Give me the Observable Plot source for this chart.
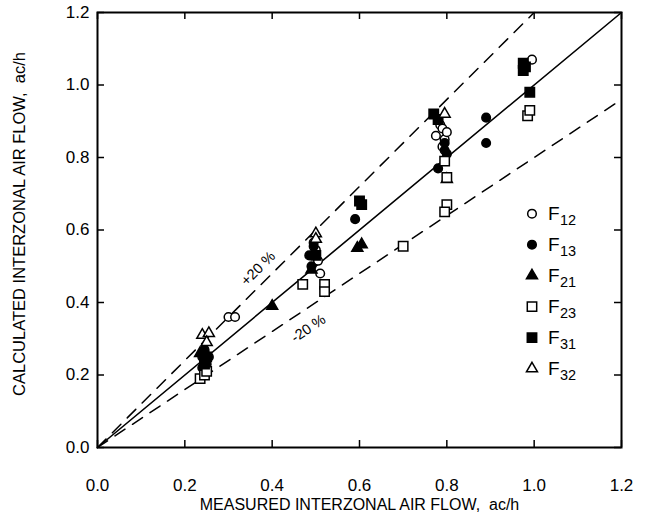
<!DOCTYPE html>
<html>
<head>
<meta charset="utf-8">
<script src="https://cdn.jsdelivr.net/npm/d3@7"></script>
<script src="https://cdn.jsdelivr.net/npm/@observablehq/plot@0.6"></script>
<style>
  html, body { margin: 0; padding: 0; background: #fff; }
  #chart { width: 648px; height: 519px; }
</style>
</head>
<body>
<div id="chart"></div>
<script>
// ---- data ----
const xTicks = [0, 0.2, 0.4, 0.6, 0.8, 1.0, 1.2];
const yTicks = [0, 0.2, 0.4, 0.6, 0.8, 1.0, 1.2];
const xTitle = "MEASURED INTERZONAL AIR FLOW,  ac/h";
const yTitle = "CALCULATED INTERZONAL AIR FLOW,  ac/h";

const seriesNames = ["12", "13", "21", "23", "31", "32"];

const f12x = [0.30, 0.315, 0.245, 0.50, 0.505, 0.51, 0.495, 0.785, 0.775, 0.79, 0.795, 0.79, 0.80, 0.995];
const f12y = [0.36, 0.36, 0.265, 0.545, 0.515, 0.48, 0.565, 0.89, 0.86, 0.88, 0.85, 0.83, 0.87, 1.07];

const f13x = [0.24, 0.25, 0.245, 0.255, 0.24, 0.495, 0.49, 0.485, 0.59, 0.795, 0.80, 0.78, 0.795, 0.89, 0.89];
const f13y = [0.25, 0.23, 0.27, 0.25, 0.22, 0.555, 0.50, 0.53, 0.63, 0.82, 0.81, 0.77, 0.84, 0.91, 0.84];

const f21x = [0.235, 0.40, 0.49, 0.595, 0.605, 0.80];
const f21y = [0.26, 0.39, 0.49, 0.55, 0.56, 0.74];

const f23x = [0.235, 0.245, 0.25, 0.47, 0.52, 0.52, 0.70, 0.795, 0.80, 0.80, 0.795, 0.985, 0.99];
const f23y = [0.19, 0.20, 0.21, 0.45, 0.45, 0.43, 0.555, 0.79, 0.745, 0.67, 0.65, 0.915, 0.93];

const f31x = [0.245, 0.25, 0.50, 0.60, 0.605, 0.77, 0.78, 0.975, 0.975, 0.98, 0.99];
const f31y = [0.23, 0.25, 0.53, 0.68, 0.67, 0.92, 0.905, 1.06, 1.04, 1.05, 0.98];

const f32x = [0.24, 0.255, 0.25, 0.50, 0.50, 0.795];
const f32y = [0.31, 0.315, 0.29, 0.59, 0.575, 0.92];

// reference lines: 1:1, +20 %, -20 %
const lineEqual = [[0, 0], [1.2, 1.2]];
const linePlus20 = [[0, 0], [1.0, 1.2]];
const lineMinus20 = [[0, 0], [1.2, 0.96]];
const bandLabels = [
  {text: "+20 %", x: 0.368, y: 0.494, rotate: -45},
  {text: "-20 %", x: 0.483, y: 0.328, rotate: -34}
];

// legend layout (data units inside the frame)
const legendX = 0.995;
const legendTop = 0.645;
const legendStep = 0.0855;

// ---- build ----
const styles = {
  "12": {symbol: "circle", fill: "white", stroke: "black", r: 4.3},
  "13": {symbol: "circle", fill: "black", stroke: "black", r: 4.3},
  "21": {symbol: "triangle", fill: "black", stroke: "black", r: 4.1},
  "23": {symbol: "square", fill: "white", stroke: "black", r: 5.3},
  "31": {symbol: "square", fill: "black", stroke: "black", r: 5.3},
  "32": {symbol: "triangle", fill: "white", stroke: "black", r: 4.1}
};
const xs = {"12": f12x, "13": f13x, "21": f21x, "23": f23x, "31": f31x, "32": f32x};
const ys = {"12": f12y, "13": f13y, "21": f21y, "23": f23y, "31": f31y, "32": f32y};

const W = 648, H = 519, mL = 97, mR = 27, mT = 12, mB = 72;
const frameW = W - mL - mR, frameH = H - mT - mB;
const tickLen = 7;
const fmt = d => d.toFixed(1);

const dotMarks = seriesNames.map(s => {
  const pts = xs[s].map((x, i) => ({x, y: ys[s][i]}));
  const st = styles[s];
  return Plot.dot(pts, {x: "x", y: "y", symbol: () => st.symbol, r: st.r,
    fill: st.fill, stroke: st.stroke, strokeWidth: 1.5});
});

const legendItems = seriesNames.map((s, i) => ({s, x: legendX, y: legendTop - i * legendStep}));
const legendMarks = seriesNames.map((s, i) => {
  const st = styles[s];
  return Plot.dot([legendItems[i]], {x: "x", y: "y", symbol: () => st.symbol, r: st.r,
    fill: st.fill, stroke: st.stroke, strokeWidth: 1.5});
});

const chart = Plot.plot({
  width: W, height: H,
  marginLeft: mL, marginRight: mR, marginTop: mT, marginBottom: mB,
  style: {fontFamily: "'Liberation Sans', Arial, Helvetica, sans-serif", background: "white", color: "black"},
  x: {domain: [0, 1.2]},
  y: {domain: [0, 1.2]},
  marks: [
    // reference lines
    Plot.line(lineEqual, {x: d => d[0], y: d => d[1], stroke: "black", strokeWidth: 1.6}),
    Plot.line(linePlus20, {x: d => d[0], y: d => d[1], stroke: "black", strokeWidth: 1.5, strokeDasharray: "12,9"}),
    Plot.line(lineMinus20, {x: d => d[0], y: d => d[1], stroke: "black", strokeWidth: 1.5, strokeDasharray: "12,9"}),
    Plot.text(bandLabels, {x: "x", y: "y", text: "text", rotate: "rotate", fontSize: 14.5, fill: "black"}),
    // data
    ...dotMarks,
    // legend
    ...legendMarks,
    Plot.text(legendItems, {x: "x", y: "y", text: () => "F", dx: 16, textAnchor: "start", fontSize: 19, fill: "black"}),
    Plot.text(legendItems, {x: "x", y: "y", text: "s", dx: 28, dy: 7, textAnchor: "start", fontSize: 14.5, fill: "black"}),
    // frame and inward ticks
    Plot.frame({stroke: "black", strokeWidth: 2}),
    Plot.tickX(xTicks, {x: d => d, insetTop: frameH - tickLen, stroke: "black", strokeWidth: 1.5}),
    Plot.tickX(xTicks, {x: d => d, insetBottom: frameH - tickLen, stroke: "black", strokeWidth: 1.5}),
    Plot.tickY(yTicks, {y: d => d, insetRight: frameW - tickLen, stroke: "black", strokeWidth: 1.5}),
    Plot.tickY(yTicks, {y: d => d, insetLeft: frameW - tickLen, stroke: "black", strokeWidth: 1.5}),
    // axes labels
    Plot.axisX(xTicks, {tickSize: 0, tickPadding: 31, tickFormat: fmt, fontSize: 17, label: null}),
    Plot.axisY(yTicks, {tickSize: 0, tickPadding: 8, tickFormat: fmt, fontSize: 17, label: null}),
    Plot.text([xTitle], {text: d => d, frameAnchor: "bottom", dy: 62, textAnchor: "middle", fontSize: 16, fill: "black"}),
    Plot.text([yTitle], {text: d => d, frameAnchor: "left", dx: -78, dy: -6, rotate: -90, textAnchor: "middle", fontSize: 16.5, fill: "black"})
  ]
});
document.getElementById("chart").appendChild(chart);
</script>
</body>
</html>
